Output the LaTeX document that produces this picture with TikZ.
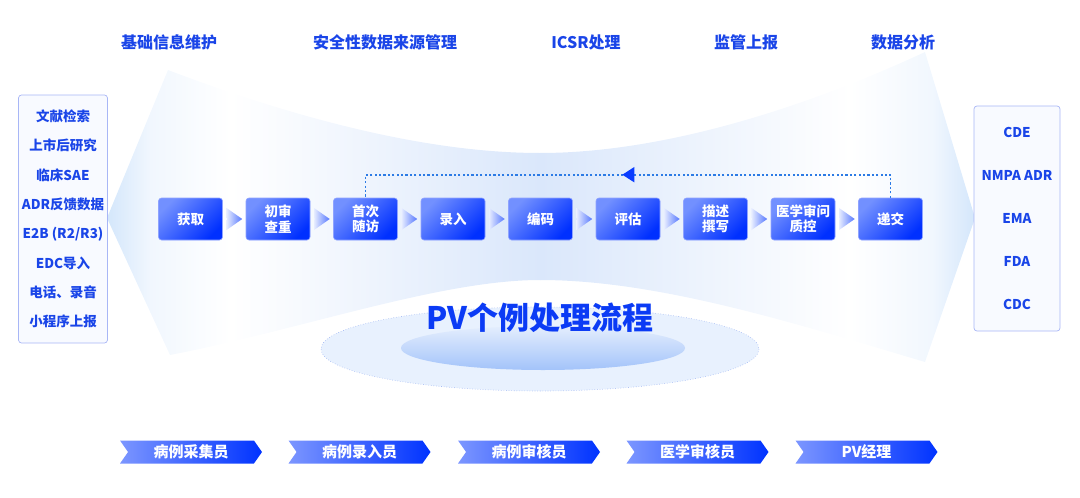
\documentclass[tikz,border=0pt]{standalone}
\usepackage{xcolor}
\usepackage{fontspec}
\setmainfont{Noto Sans CJK SC}
\usetikzlibrary{positioning,shapes.arrows,shapes.symbols,arrows.meta,decorations.markings}

\definecolor{txtblue}{HTML}{1A45E8}
\definecolor{titleblue}{HTML}{0B3BF5}
\definecolor{boxlight}{HTML}{7290FF}
\definecolor{boxdark}{HTML}{0030FF}
\definecolor{boxedge}{HTML}{8FA3FF}
\definecolor{arrlight}{HTML}{E6ECFF}
\definecolor{arrdark}{HTML}{5577FF}
\definecolor{loopblue}{HTML}{2C7BE5}
\definecolor{headblue}{HTML}{0A3CFF}
\definecolor{listedge}{HTML}{A8B6F6}
\definecolor{listfill}{HTML}{F8FAFF}
\definecolor{ellfill}{HTML}{E8F1FE}
\definecolor{ellborder}{HTML}{9FB5F2}
\definecolor{innertop}{HTML}{E4EEFD}
\definecolor{innerbot}{HTML}{A3C3FA}
\definecolor{chevlight}{HTML}{7C96FF}
\definecolor{chevdark}{HTML}{0033FF}
\definecolor{bandedge}{HTML}{D3E6FB}
\definecolor{bandfade}{HTML}{F1F7FE}
\definecolor{bandmid}{HTML}{DAE7FB}

\begin{document}
\begin{tikzpicture}[x=1pt, y=-1pt,
	toplabel/.style={text=txtblue, font=\fontsize{16}{18}\selectfont\bfseries},
	procbox/.style={rectangle, rounded corners=3pt, draw=boxedge, line width=0.6pt,
		top color=boxlight, bottom color=boxdark, shading angle=45,
		minimum width=64pt, minimum height=42pt, inner sep=1pt,
		text=white, align=center, font=\fontsize{13.5}{15.5}\selectfont\bfseries},
	flowarrow/.style={single arrow, inner sep=0pt, minimum width=22pt, minimum height=15pt,
		single arrow head extend=3pt, single arrow tip angle=70,
		left color=arrlight, right color=arrdark},
	loopline/.style={loopblue, line width=1.6pt, dash pattern=on 2.2pt off 2.2pt,
		decoration={markings, mark=at position 0.51 with {\arrow[headblue, solid]{Triangle[length=12pt, width=15pt]}}},
		postaction={decorate}},
	listbox/.style={rectangle, rounded corners=3pt, draw=listedge, fill=listfill, line width=0.7pt,
		minimum width=86pt, text=txtblue, align=center,
		font=\fontsize{13.5}{29.3}\selectfont\bfseries},
	heading/.style={text=titleblue, font=\fontsize{31}{33}\selectfont\bfseries},
	rolebox/.style={signal, signal from=west, signal to=east, signal pointer angle=110,
		minimum width=142pt, minimum height=23pt, inner sep=0pt,
		left color=chevlight, right color=chevdark,
		text=white, font=\fontsize{15}{17}\selectfont\bfseries}
	]
	\useasboundingbox (0,0) rectangle (1080,498);
	
	% We will draw the background band here
	\begin{scope}
		\clip (107,218) -- (168,70)
			.. controls (300,120) and (430,153) .. (540,153)
			.. controls (660,153) and (800,110) .. (925,52)
			-- (975,218) -- (925,362)
			.. controls (800,325) and (660,280) .. (540,280)
			.. controls (440,280) and (300,330) .. (170,355) -- cycle;
		\shade[left color=bandedge, right color=bandfade] (106,40) rectangle (150.5,380);
		\shade[left color=bandfade, right color=white] (150,40) rectangle (230.5,380);
		\shade[left color=white, right color=bandmid] (230,40) rectangle (540.5,380);
		\shade[left color=bandmid, right color=white] (540,40) rectangle (850.5,380);
		\shade[left color=white, right color=bandfade] (850,40) rectangle (932.5,380);
		\shade[left color=bandfade, right color=bandedge] (932,40) rectangle (976,380);
	\end{scope}
	
	% top row of labels
	\node[toplabel] (basic) at (169,42) {基础信息维护};
	\node[toplabel] (sourcemgmt) at (385,42) {安全性数据来源管理};
	\node[toplabel] (icsr) at (586,42) {ICSR处理};
	\node[toplabel] (report) at (746,42) {监管上报};
	\node[toplabel] (analysis) at (903,42) {数据分析};
	
	% the two lists
	\node[listbox, minimum height=248pt] (sources) at (63,219)
		{文献检索\\上市后研究\\临床SAE\\ADR反馈数据\\E2B (R2/R3)\\EDC导入\\电话、录音\\小程序上报};
	\node[listbox, minimum height=225pt, font=\fontsize{13.5}{43}\selectfont\bfseries] (agencies) at (1017,218.5)
		{CDE\\NMPA ADR\\EMA\\FDA\\CDC};
	
	% process steps
	\node[procbox] (get) at (190.5,219) {获取};
	\node[procbox, right=22.9pt of get] (check) {初审\\查重};
	\node[procbox, right=22.9pt of check] (visit) {首次\\随访};
	\node[procbox, right=22.9pt of visit] (entry) {录入};
	\node[procbox, right=22.9pt of entry] (coding) {编码};
	\node[procbox, right=22.9pt of coding] (assess) {评估};
	\node[procbox, right=22.9pt of assess] (narrative) {描述\\撰写};
	\node[procbox, right=22.9pt of narrative] (medqc) {医学审问\\质控};
	\node[procbox, right=22.9pt of medqc] (submit) {递交};
	
	\path (get) -- (check) node[flowarrow, midway] (arr1) {};
	\path (check) -- (visit) node[flowarrow, midway] (arr2) {};
	\path (visit) -- (entry) node[flowarrow, midway] (arr3) {};
	\path (entry) -- (coding) node[flowarrow, midway] (arr4) {};
	\path (coding) -- (assess) node[flowarrow, midway] (arr5) {};
	\path (assess) -- (narrative) node[flowarrow, midway] (arr6) {};
	\path (narrative) -- (medqc) node[flowarrow, midway] (arr7) {};
	\path (medqc) -- (submit) node[flowarrow, midway] (arr8) {};
	
	% follow-up loop
	\draw[loopline] (submit.north) -- ++(0,-23) -| (visit.north);
	
	% ellipses and title
	\fill[ellfill] (540,349) ellipse [x radius=219, y radius=42];
	\draw[ellborder, line width=0.6pt, dotted] (540,349) ellipse [x radius=219, y radius=42];
	\shade[top color=innertop, bottom color=innerbot] (543,348) ellipse [x radius=142, y radius=22];
	\node[heading] (title) at (540,318) {PV个例处理流程};
	
	% roles
	\node[rolebox] (collector) at (191,452) {病例采集员};
	\node[rolebox] (enterer) at (359.5,452) {病例录入员};
	\node[rolebox] (reviewer) at (529,452) {病例审核员};
	\node[rolebox] (medreviewer) at (697.5,452) {医学审核员};
	\node[rolebox] (manager) at (866.5,452) {PV经理};
\end{tikzpicture}
\end{document}
